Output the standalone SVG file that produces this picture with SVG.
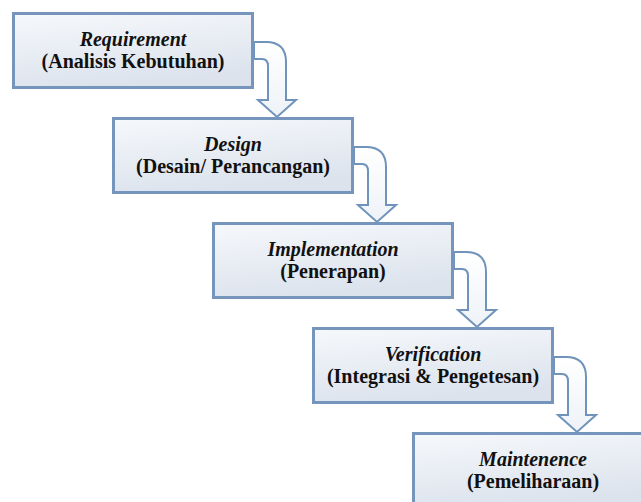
<svg xmlns="http://www.w3.org/2000/svg" width="641" height="502" viewBox="0 0 641 502">
<style>
.box{fill:url(#bg);stroke:#7595bd;stroke-width:3}
.arr{fill:url(#ag);stroke:#7093bb;stroke-width:2;stroke-linejoin:miter}
.t1{font-family:"Liberation Serif","Times New Roman",serif;font-size:20px;font-weight:bold;font-style:italic;fill:#111;text-anchor:middle}
.t2{font-family:"Liberation Serif","Times New Roman",serif;font-size:20px;font-weight:bold;fill:#111;text-anchor:middle}
</style>
<defs>
<linearGradient id="bg" x1="0" y1="0" x2="0.3" y2="1">
<stop offset="0" stop-color="#f6f8fb"/>
<stop offset="1" stop-color="#dce3ed"/>
</linearGradient>
<linearGradient id="ag" x1="0" y1="0" x2="0" y2="1">
<stop offset="0" stop-color="#ffffff"/>
<stop offset="1" stop-color="#eef2f7"/>
</linearGradient>
<path id="arrow" d="M254,42 L266,42 Q286,42 286,62 L286,100 L296,100 L277,117 L258,100 L268,100 L268,66 Q268,59 262,59 L254,59 Z"/>
</defs>
<g id="connectors">
<use href="#arrow" class="arr"/>
<use href="#arrow" class="arr" transform="translate(100,105)"/>
<use href="#arrow" class="arr" transform="translate(200,210)"/>
<use href="#arrow" class="arr" transform="translate(300,315)"/>
</g>
<g id="requirement">
<rect class="box" x="13.5" y="13.5" width="239" height="74"/>
<text class="t1" x="133" y="46">Requirement</text>
<text class="t2" x="133" y="68">(Analisis Kebutuhan)</text>
</g>
<g id="design">
<rect class="box" x="113.5" y="118.5" width="239" height="74"/>
<text class="t1" x="233" y="151">Design</text>
<text class="t2" x="233" y="173">(Desain/ Perancangan)</text>
</g>
<g id="implementation">
<rect class="box" x="213.5" y="223.5" width="239" height="74"/>
<text class="t1" x="333" y="256">Implementation</text>
<text class="t2" x="333" y="278">(Penerapan)</text>
</g>
<g id="verification">
<rect class="box" x="313.5" y="328.5" width="239" height="74"/>
<text class="t1" x="433" y="361">Verification</text>
<text class="t2" x="433" y="383">(Integrasi &amp; Pengetesan)</text>
</g>
<g id="maintenence">
<rect class="box" x="413.5" y="433.5" width="239" height="74"/>
<text class="t1" x="533" y="466">Maintenence</text>
<text class="t2" x="533" y="488">(Pemeliharaan)</text>
</g>
</svg>
